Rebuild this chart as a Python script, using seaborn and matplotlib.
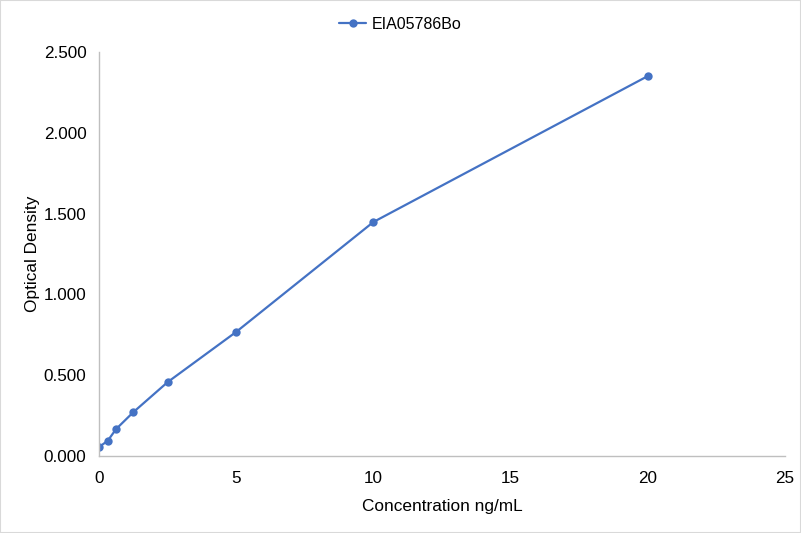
import matplotlib
matplotlib.use('Agg')
import matplotlib.pyplot as plt
import seaborn as sns
import pandas as pd

# standard curve values
concentration = [0, 0.3125, 0.625, 1.25, 2.5, 5, 10, 20]
optical_density = [0.056, 0.093, 0.167, 0.271, 0.457, 0.768, 1.448, 2.351]
series_name = 'EIA05786Bo'

data = pd.DataFrame({'Concentration': concentration, 'OD': optical_density})

sns.set_style('white')
plt.rcParams['font.family'] = ['Liberation Sans', 'DejaVu Sans']
plt.rcParams['text.color'] = 'black'
plt.rcParams['axes.labelcolor'] = 'black'

fig = plt.figure(figsize=(8.01, 5.33), dpi=100)
ax = fig.add_axes([99 / 801, 1 - 456 / 533, (785 - 99) / 801, (456 - 52) / 533])

sns.lineplot(data=data, x='Concentration', y='OD', ax=ax, color='#4472C4',
             marker='o', markersize=6, markeredgewidth=0, linewidth=1.6,
             label=series_name)

ax.set_xlim(0, 25)
ax.set_ylim(0, 2.5)
ax.set_xticks([0, 5, 10, 15, 20, 25])
ax.set_yticks([0, 0.5, 1.0, 1.5, 2.0, 2.5])
ax.set_yticklabels([f'{v:.3f}' for v in [0, 0.5, 1.0, 1.5, 2.0, 2.5]])
ax.tick_params(axis='both', labelsize=12.3, length=0, labelcolor='black')
ax.tick_params(axis='y', pad=9)
ax.tick_params(axis='x', pad=10.5)

for side in ['top', 'right']:
    ax.spines[side].set_visible(False)
for side in ['left', 'bottom']:
    ax.spines[side].set_color('#BFBFBF')
    ax.spines[side].set_linewidth(1)

ax.set_xlabel('Concentration ng/mL', fontsize=12.4, labelpad=10)
ax.set_ylabel('Optical Density', fontsize=12.4, labelpad=3)

ax.legend(loc='upper center', bbox_to_anchor=(0.5, 0.995),
          bbox_transform=fig.transFigure, frameon=False,
          fontsize=11.5, handlelength=1.7, handletextpad=0.35)

fig.patches.append(plt.Rectangle((0, 0), 1, 1, transform=fig.transFigure,
                                 fill=False, edgecolor='#D9D9D9', linewidth=1.5))

fig.savefig('out.png', dpi=100)
